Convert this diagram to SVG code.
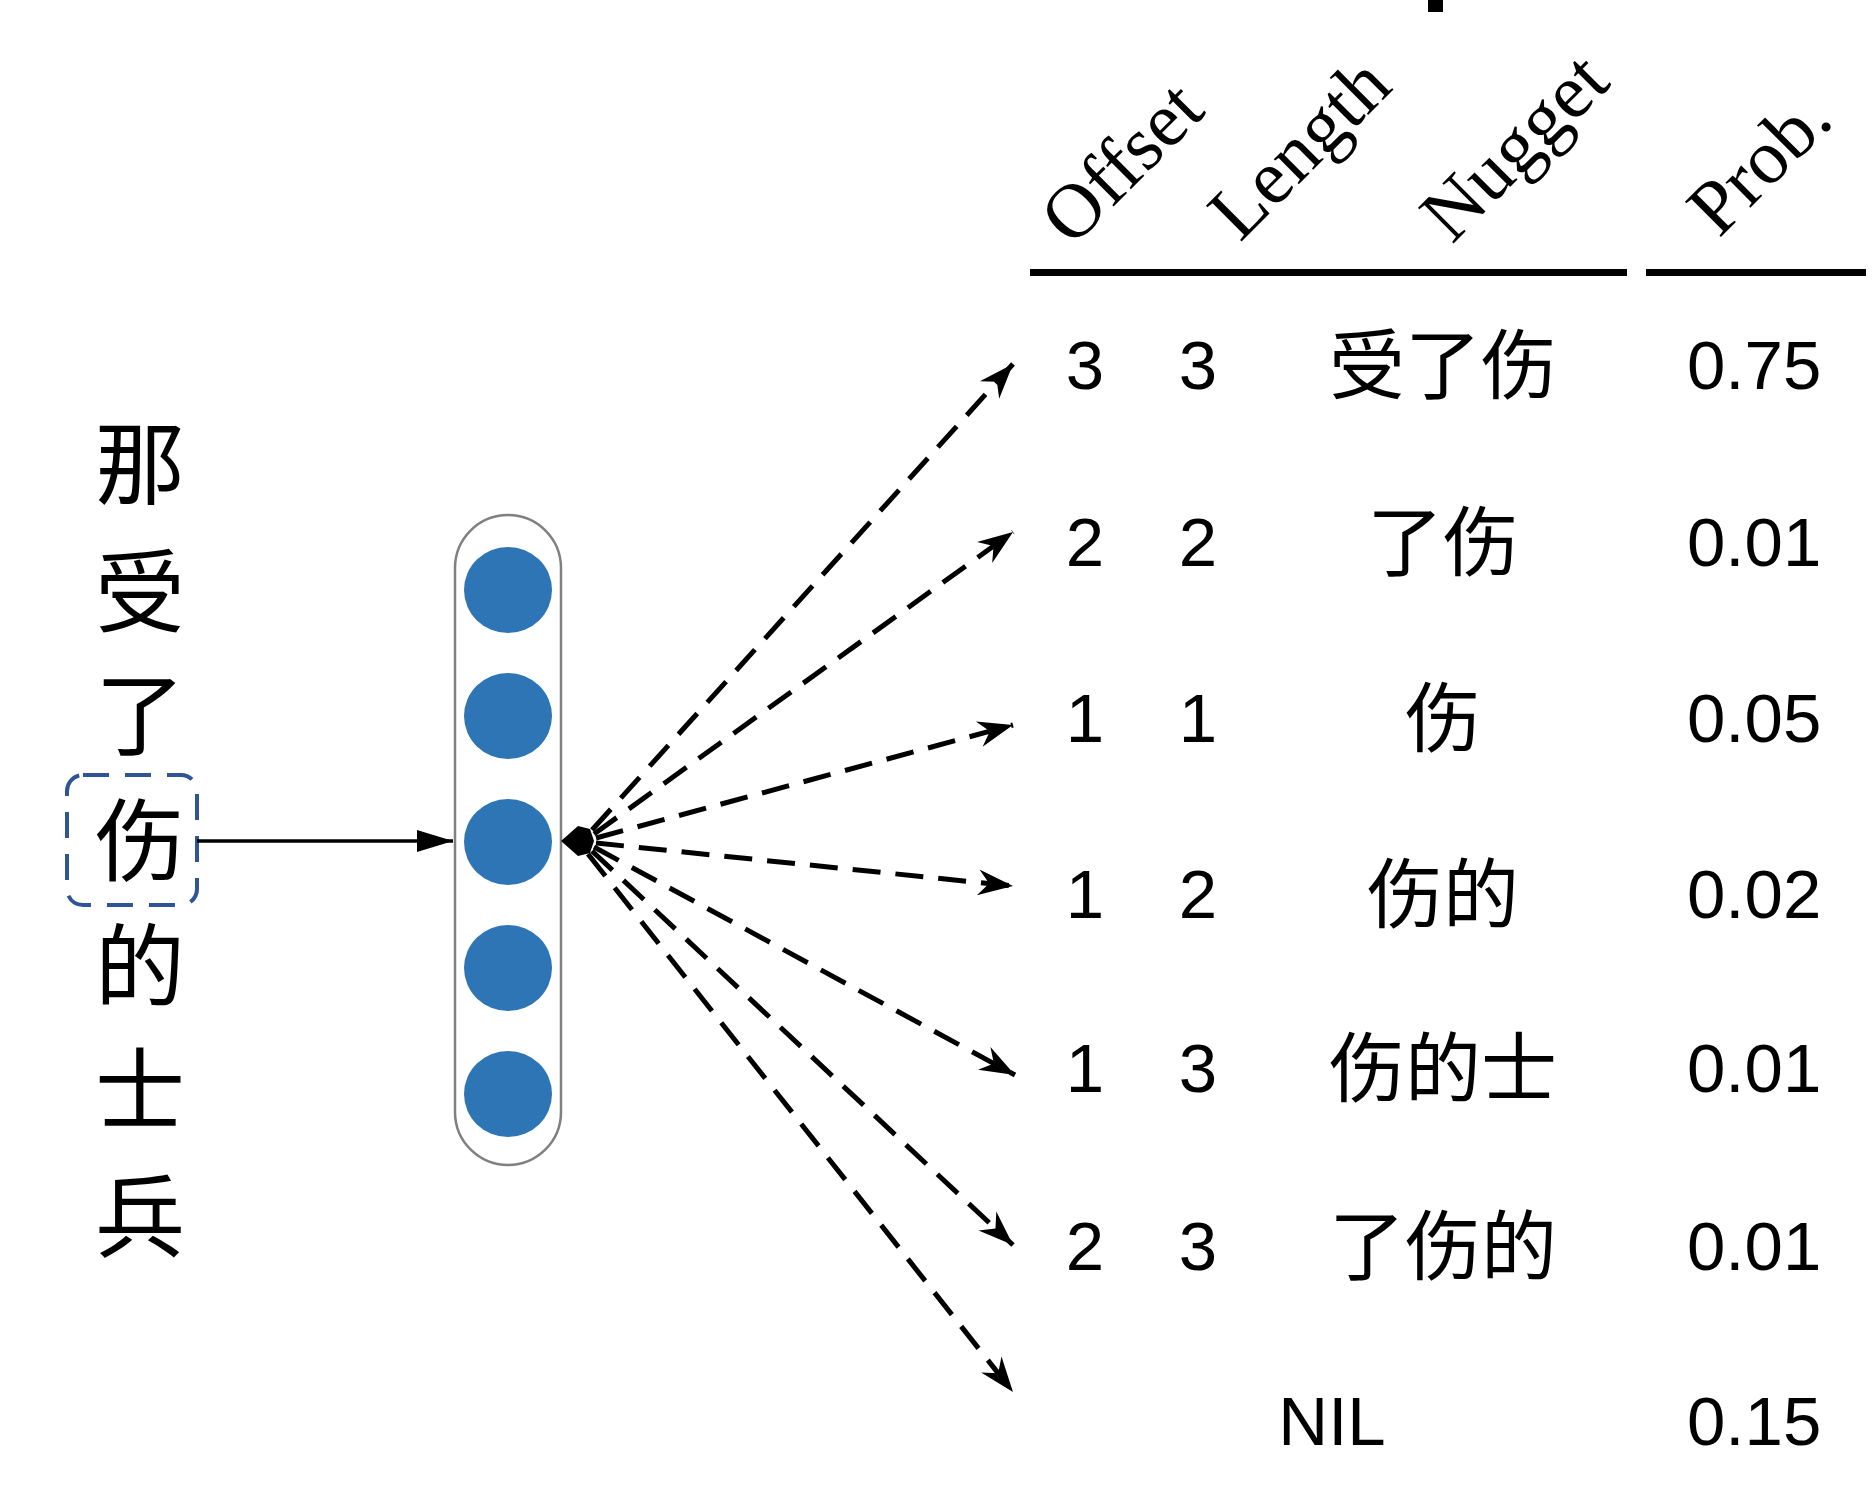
<svg xmlns="http://www.w3.org/2000/svg" width="1873" height="1489" viewBox="0 0 1873 1489">
<style>
.num{font-family:"Liberation Sans","Noto Sans",sans-serif;font-size:69px;fill:#000}
.mid{text-anchor:middle}
.cjk{font-family:"Noto Sans CJK SC",sans-serif;font-size:76px;fill:#000;text-anchor:middle}
.left{font-family:"Noto Sans CJK SC",sans-serif;font-size:90px;fill:#000;text-anchor:middle}
.hdr{font-family:"Liberation Serif",serif;font-size:77px;fill:#000}
.dash{fill:none;stroke:#000;stroke-width:5;stroke-dasharray:28 15;marker-end:url(#open)}
.circ{fill:#2E75B6}
</style>
<defs>
<marker id="open" markerUnits="userSpaceOnUse" markerWidth="44" markerHeight="32" viewBox="-38 -16 40 32" refX="0" refY="0" orient="auto">
<path d="M0,0 L-35,-13 L-24,0 L-35,13 Z" fill="#000"/>
</marker>
<marker id="solid" markerUnits="userSpaceOnUse" markerWidth="40" markerHeight="30" viewBox="-38 -15 40 30" refX="0" refY="0" orient="auto">
<path d="M0,0 L-36,-11 L-36,11 Z" fill="#000"/>
</marker>
</defs>
<rect x="0" y="0" width="1873" height="1489" fill="#fff"/>
<rect x="1428" y="0" width="15" height="12" fill="#000"/>

<g id="sentence">
<text class="left" x="140" y="497">那</text>
<text class="left" x="140" y="625">受</text>
<text class="left" x="140" y="748">了</text>
<text class="left" x="140" y="874">伤</text>
<text class="left" x="140" y="999">的</text>
<text class="left" x="140" y="1123">士</text>
<text class="left" x="140" y="1250">兵</text>
<rect x="67" y="775" width="130" height="130" rx="16" fill="none" stroke="#2F5597" stroke-width="4" stroke-dasharray="26 16"/>
</g>

<g id="encoder">
<rect x="455" y="515" width="106" height="650" rx="53" fill="#fff" stroke="#808080" stroke-width="2.5"/>
<ellipse class="circ" cx="508" cy="590" rx="44" ry="43"/>
<ellipse class="circ" cx="508" cy="716" rx="44" ry="43"/>
<ellipse class="circ" cx="508" cy="842" rx="44" ry="43"/>
<ellipse class="circ" cx="508" cy="968" rx="44" ry="43"/>
<ellipse class="circ" cx="508" cy="1094" rx="44" ry="43"/>
</g>

<g id="connectors">
<line x1="197" y1="841" x2="453" y2="841" stroke="#000" stroke-width="3.5" marker-end="url(#solid)"/>
<polygon points="561,841 578,826 590,829 594,841 590,853 578,856" fill="#000"/>
<line class="dash" x1="592" y1="830" x2="1013" y2="364"/>
<line class="dash" x1="594" y1="834" x2="1013" y2="532"/>
<line class="dash" x1="596" y1="838" x2="1013" y2="725"/>
<line class="dash" x1="596" y1="843" x2="1013" y2="886"/>
<line class="dash" x1="594" y1="847" x2="1015" y2="1075"/>
<line class="dash" x1="592" y1="851" x2="1013" y2="1245"/>
<line class="dash" x1="588" y1="854" x2="1013" y2="1392"/>
</g>

<g id="header">
<text class="hdr" transform="translate(1072,248) rotate(-45)">Offset</text>
<text class="hdr" transform="translate(1240,243) rotate(-45)">Length</text>
<text class="hdr" transform="translate(1452,245) rotate(-45)">Nugget</text>
<text class="hdr" transform="translate(1719,239) rotate(-45)">Prob.</text>
<rect x="1030" y="269" width="597" height="7" fill="#000"/>
<rect x="1646" y="269" width="220" height="7" fill="#000"/>
</g>

<g id="table">
<text class="num mid" x="1085" y="389">3</text><text class="num mid" x="1198" y="389">3</text><text class="cjk" x="1443" y="393">受了伤</text><text class="num" x="1687" y="389">0.75</text>
<text class="num mid" x="1085" y="566">2</text><text class="num mid" x="1198" y="566">2</text><text class="cjk" x="1443" y="570">了伤</text><text class="num" x="1687" y="566">0.01</text>
<text class="num mid" x="1085" y="742">1</text><text class="num mid" x="1198" y="742">1</text><text class="cjk" x="1443" y="746">伤</text><text class="num" x="1687" y="742">0.05</text>
<text class="num mid" x="1085" y="918">1</text><text class="num mid" x="1198" y="918">2</text><text class="cjk" x="1443" y="922">伤的</text><text class="num" x="1687" y="918">0.02</text>
<text class="num mid" x="1085" y="1092">1</text><text class="num mid" x="1198" y="1092">3</text><text class="cjk" x="1443" y="1096">伤的士</text><text class="num" x="1687" y="1092">0.01</text>
<text class="num mid" x="1085" y="1270">2</text><text class="num mid" x="1198" y="1270">3</text><text class="cjk" x="1443" y="1274">了伤的</text><text class="num" x="1687" y="1270">0.01</text>
<text class="num mid" x="1332" y="1445">NIL</text><text class="num" x="1687" y="1445">0.15</text>
</g>
</svg>
